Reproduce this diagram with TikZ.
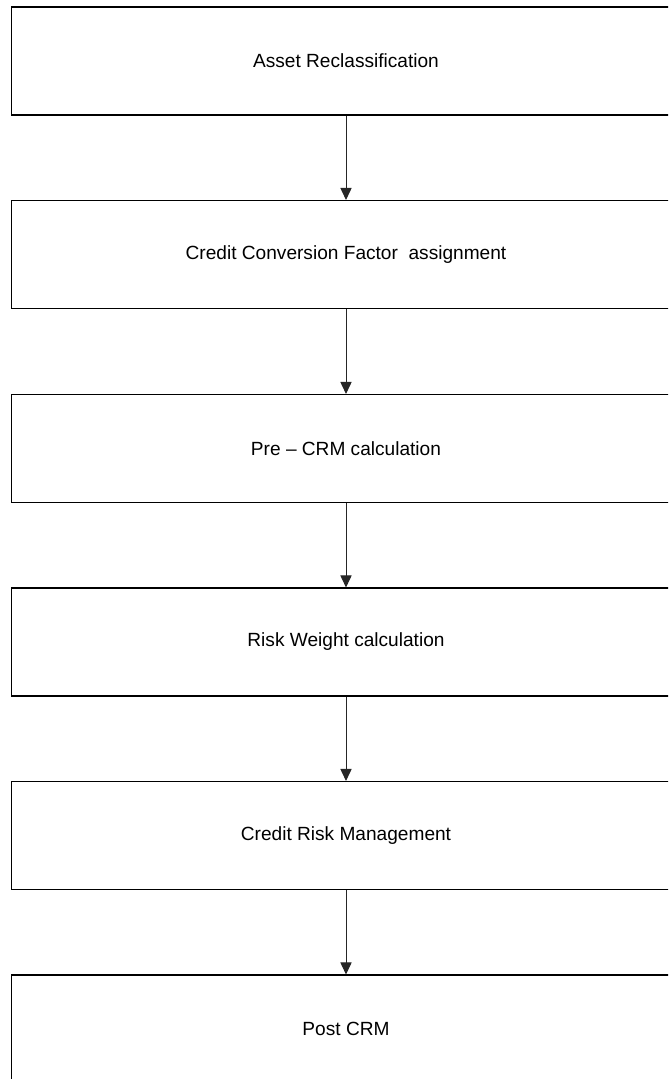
\documentclass[tikz,border=0pt]{standalone}
\usepackage{fontspec}
\setmainfont{Liberation Sans}
\usetikzlibrary{arrows.meta,positioning}
\tikzset{
  stepbox/.style={draw=black, line width=0.55pt, align=center, fill=white, minimum width=334.5pt, minimum height=54pt, inner sep=0pt, font=\fontsize{9.55}{11.5}\selectfont},
  arrow/.style={-{Triangle[length=6pt, width=5.6pt]}, line width=0.5pt, draw=black!85}
}

\begin{document}
\begin{tikzpicture}[x=0.5pt, y=-0.5pt]
  \clip (0,0) rectangle (668,1079);
  \useasboundingbox (0,0) rectangle (668,1079);
  \node[stepbox] (asset) at (346,61) {Asset Reclassification};
  \node[stepbox] (ccf) at (346,254.5) {Credit Conversion Factor\ \ assignment};
  \node[stepbox] (precrm) at (346,448.5) {Pre -- CRM calculation};
  \node[stepbox] (rw) at (346,642) {Risk Weight calculation};
  \node[stepbox] (crm) at (346,835.5) {Credit Risk Management};
  \node[stepbox] (postcrm) at (346,1029) {Post CRM};
  \draw[arrow] (asset.south) -- (ccf.north);
  \draw[arrow] (ccf.south) -- (precrm.north);
  \draw[arrow] (precrm.south) -- (rw.north);
  \draw[arrow] (rw.south) -- (crm.north);
  \draw[arrow] (crm.south) -- (postcrm.north);
\end{tikzpicture}
\end{document}
